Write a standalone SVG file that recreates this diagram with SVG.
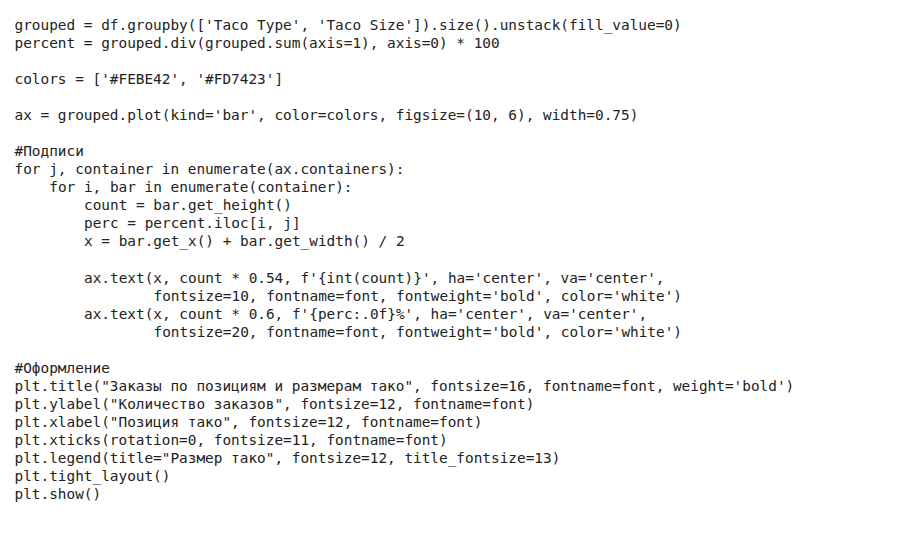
<svg xmlns="http://www.w3.org/2000/svg" width="900" height="537" viewBox="0 0 900 537">
<style>
.c{font-family:"DejaVu Sans Mono","Liberation Mono",monospace;font-size:14.4px;fill:#222222;}
</style>
<rect width="900" height="537" fill="#ffffff"/>
<g id="code" class="c">
<text x="14.5" y="29.8">grouped = df.groupby(['Taco Type', 'Taco Size']).size().unstack(fill_value=0)</text>
<text x="14.5" y="47.85">percent = grouped.div(grouped.sum(axis=1), axis=0) * 100</text>
<text x="14.5" y="83.95">colors = ['#FEBE42', '#FD7423']</text>
<text x="14.5" y="120.05">ax = grouped.plot(kind='bar', color=colors, figsize=(10, 6), width=0.75)</text>
<text x="14.5" y="156.15">#Подписи</text>
<text x="14.5" y="174.2">for j, container in enumerate(ax.containers):</text>
<text x="49.26" y="192.25">for i, bar in enumerate(container):</text>
<text x="84.02" y="210.3">count = bar.get_height()</text>
<text x="84.02" y="228.35">perc = percent.iloc[i, j]</text>
<text x="84.02" y="246.4">x = bar.get_x() + bar.get_width() / 2</text>
<text x="84.02" y="282.5">ax.text(x, count * 0.54, f'{int(count)}', ha='center', va='center',</text>
<text x="153.54" y="300.55">fontsize=10, fontname=font, fontweight='bold', color='white')</text>
<text x="84.02" y="318.6">ax.text(x, count * 0.6, f'{perc:.0f}%', ha='center', va='center',</text>
<text x="153.54" y="336.65">fontsize=20, fontname=font, fontweight='bold', color='white')</text>
<text x="14.5" y="372.75">#Оформление</text>
<text x="14.5" y="390.8">plt.title("Заказы по позициям и размерам тако", fontsize=16, fontname=font, weight='bold')</text>
<text x="14.5" y="408.85">plt.ylabel("Количество заказов", fontsize=12, fontname=font)</text>
<text x="14.5" y="426.9">plt.xlabel("Позиция тако", fontsize=12, fontname=font)</text>
<text x="14.5" y="444.95">plt.xticks(rotation=0, fontsize=11, fontname=font)</text>
<text x="14.5" y="463">plt.legend(title="Размер тако", fontsize=12, title_fontsize=13)</text>
<text x="14.5" y="481.05">plt.tight_layout()</text>
<text x="14.5" y="499.1">plt.show()</text>
</g>
</svg>
